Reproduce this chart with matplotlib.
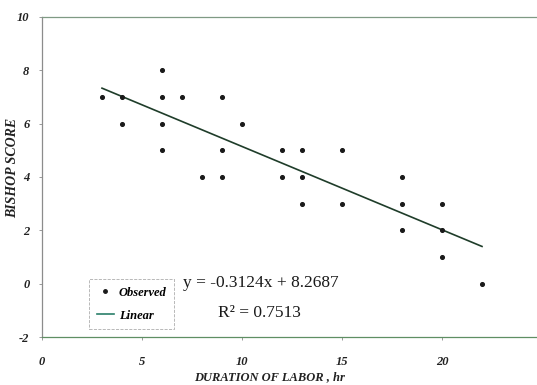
import matplotlib.pyplot as plt
from matplotlib.lines import Line2D

# observed points (duration of labor, bishop score)
hours = [3, 4, 4, 6, 6, 6, 6, 7, 8, 9, 9, 9, 10, 12, 12, 13, 13, 13, 15, 15,
         18, 18, 18, 20, 20, 20, 22]
score = [7, 7, 6, 8, 7, 6, 5, 7, 4, 7, 5, 4, 6, 5, 4, 5, 4, 3, 5, 3,
         4, 3, 2, 3, 2, 1, 0]

slope, intercept = -0.3124, 8.2687
fit_x = [3, 22]
fit_y = [slope * v + intercept for v in fit_x]

x_ticks = [0, 5, 10, 15, 20]
y_ticks = [-2, 0, 2, 4, 6, 8, 10]

serif = ['Liberation Serif', 'DejaVu Serif']
plt.rcParams['font.family'] = serif
plt.rcParams['axes.unicode_minus'] = False

fig = plt.figure(figsize=(5.37, 3.85), dpi=100)
ax = fig.add_axes([42 / 537, 48 / 385, 1 - 42 / 537, (337 - 17) / 385])

ax.scatter(hours, score, s=7, color='#1a1a1a', zorder=3)
ax.plot(fit_x, fit_y, color='#1f3d2a', lw=1.2)

ax.set_xlim(0, 24.75)
ax.set_ylim(-2, 10)
ax.set_xticks(x_ticks)
ax.set_yticks(y_ticks)
for lab in ax.get_xticklabels() + ax.get_yticklabels():
    lab.set_fontstyle('italic')
    lab.set_fontweight('bold')
    lab.set_fontsize(9)
    lab.set_color('#222222')
ax.tick_params(axis='x', length=2, width=0.6, color='#888888', pad=12)
ax.tick_params(axis='y', length=2, width=0.6, color='#888888', pad=7)

ax.spines['right'].set_visible(False)
ax.spines['left'].set_color('#8c8c8c')
ax.spines['top'].set_color('#7f9a84')
ax.spines['bottom'].set_color('#5f8f63')
for s in ['left', 'top', 'bottom']:
    ax.spines[s].set_linewidth(0.9)

ax.set_xlabel('DURATION OF LABOR , hr', fontsize=9, fontweight='bold',
              fontstyle='italic', color='#222222')
ax.set_ylabel('BISHOP SCORE', fontsize=10, fontweight='bold',
              fontstyle='italic', color='#222222')
ax.xaxis.set_label_coords((270 - 42) / 495, -(377 - 337) / 320)
ax.yaxis.set_label_coords(-(42 - 13) / 495, (337 - 168) / 320)
ax.xaxis.label.set_va('center')
ax.yaxis.label.set_va('center')

fig.text(183 / 537, 1 - 283 / 385, 'y = -0.3124x + 8.2687',
         fontsize=12.5, va='center', ha='left', color='#1a1a1a')
fig.text(218 / 537, 1 - 313 / 385, 'R² = 0.7513',
         fontsize=12.5, va='center', ha='left', color='#1a1a1a')

handles = [Line2D([], [], marker='o', ls='none', ms=2.5, color='#1a1a1a'),
           Line2D([], [], color='#2a7f6a', lw=1.2)]
leg = fig.legend(handles, ['Observed', 'Linear'], loc='upper left',
                 bbox_to_anchor=(89 / 537, 1 - 279 / 385),
                 prop={'family': serif, 'style': 'italic', 'weight': 'bold', 'size': 9},
                 frameon=True, fancybox=False, handlelength=1.4,
                 borderpad=0.6, labelspacing=0.9, handletextpad=0.4,
                 borderaxespad=0)
leg.get_frame().set_linestyle('--')
leg.get_frame().set_linewidth(0.6)
leg.get_frame().set_edgecolor('#999999')

fig.savefig('out.png', dpi=100)
